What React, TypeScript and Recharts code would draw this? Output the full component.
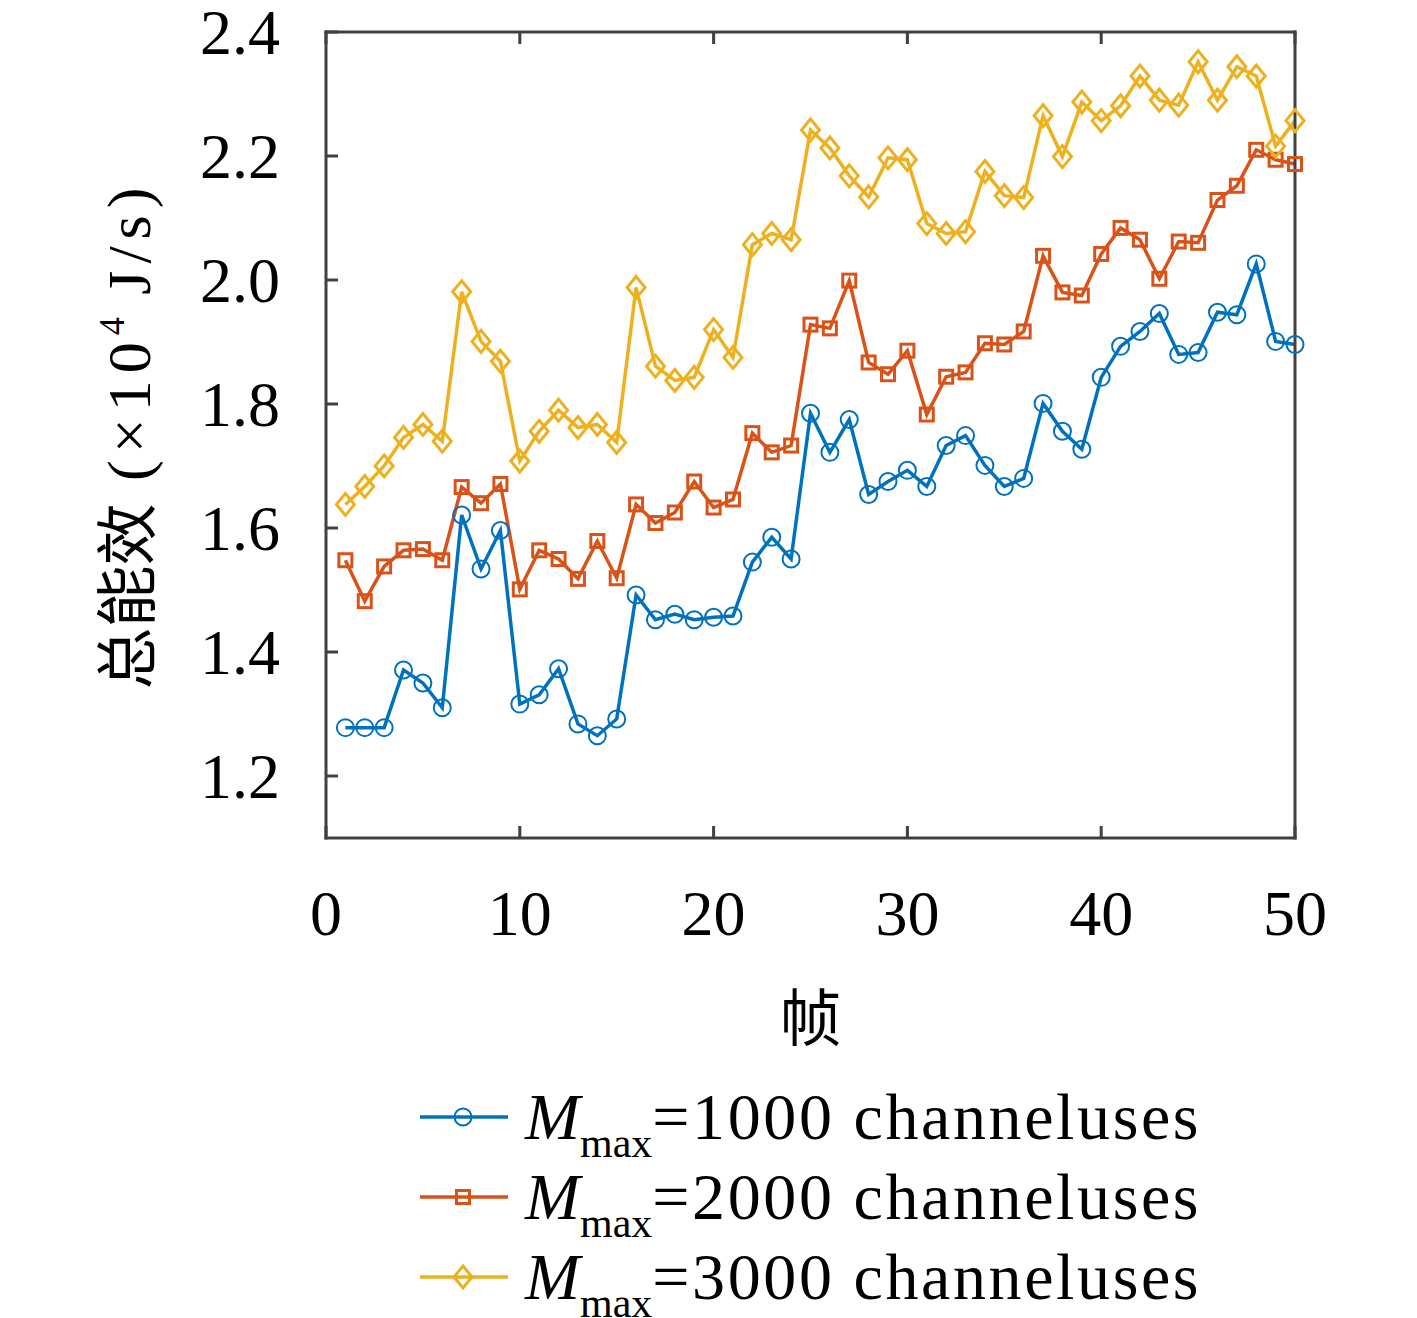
import React from "react";
import { LineChart, Line, XAxis, YAxis, Legend } from "recharts";

const frames = [
  1, 2, 3, 4, 5, 6, 7, 8, 9, 10, 11, 12, 13, 14, 15, 16, 17, 18, 19, 20, 21, 22, 23, 24, 25,
  26, 27, 28, 29, 30, 31, 32, 33, 34, 35, 36, 37, 38, 39, 40, 41, 42, 43, 44, 45, 46, 47, 48, 49, 50,
];

const m1000 = [
  1.278, 1.278, 1.278, 1.371, 1.35, 1.31, 1.621, 1.534, 1.596, 1.316, 1.331, 1.373, 1.284, 1.265, 1.292,
  1.492, 1.452, 1.461, 1.452, 1.456, 1.458, 1.545, 1.585, 1.55, 1.785, 1.722, 1.775, 1.654, 1.675, 1.693,
  1.667, 1.733, 1.749, 1.701, 1.667, 1.68, 1.801, 1.756, 1.727, 1.843, 1.893, 1.917, 1.946, 1.88, 1.883,
  1.948, 1.944, 2.026, 1.901, 1.896,
];

const m2000 = [
  1.548, 1.482, 1.538, 1.564, 1.566, 1.548, 1.666, 1.64, 1.671, 1.501, 1.564, 1.55, 1.518, 1.579, 1.519,
  1.638, 1.608, 1.625, 1.675, 1.633, 1.646, 1.753, 1.722, 1.733, 1.928, 1.922, 1.999, 1.867, 1.848, 1.886,
  1.783, 1.844, 1.851, 1.898, 1.896, 1.917, 2.039, 1.98, 1.975, 2.042, 2.084, 2.065, 2.002, 2.062, 2.06,
  2.129, 2.152, 2.21, 2.194, 2.187,
];

const m3000 = [
  1.638, 1.667, 1.7, 1.746, 1.767, 1.74, 1.981, 1.901, 1.869, 1.708, 1.756, 1.79, 1.762, 1.767, 1.738,
  1.988, 1.861, 1.838, 1.843, 1.92, 1.875, 2.057, 2.075, 2.065, 2.242, 2.213, 2.168, 2.134, 2.197, 2.194,
  2.091, 2.075, 2.078, 2.175, 2.136, 2.133, 2.265, 2.199, 2.287, 2.257, 2.281, 2.329, 2.29, 2.282, 2.352,
  2.29, 2.344, 2.329, 2.216, 2.257,
];

const xTicks = [0, 10, 20, 30, 40, 50];
const yTicks = [1.2, 1.4, 1.6, 1.8, 2.0, 2.2, 2.4];

const data = frames.map((f, i) => ({ frame: f, m1000: m1000[i], m2000: m2000[i], m3000: m3000[i] }));

const SERIF = '"Liberation Serif", "DejaVu Serif", serif';
const CJK = '"Noto Sans CJK SC", sans-serif';
const AXIS = "#404040";
const TICK_LEN = 12;
const LEFT_GAP = 46; // axis -> right end of y labels
const BOTTOM_GAP = 97; // axis -> baseline of x labels

const COLORS: Record<string, string> = { m1000: "#0072BD", m2000: "#D95319", m3000: "#EDB120" };

function Marker({ kind, cx, cy, color }: { kind: string; cx: number; cy: number; color: string }) {
  if (kind === "m1000") return <circle cx={cx} cy={cy} r={8.5} fill="none" stroke={color} strokeWidth={2} />;
  if (kind === "m2000")
    return <rect x={cx - 6.5} y={cy - 6.5} width={13} height={13} fill="none" stroke={color} strokeWidth={3} />;
  return (
    <polygon
      points={`${cx},${cy - 11} ${cx + 9},${cy} ${cx},${cy + 11} ${cx - 9},${cy}`}
      fill="none"
      stroke={color}
      strokeWidth={3}
    />
  );
}

const dotFor = (kind: string) => (p: any) =>
  <Marker key={`${kind}-${p.index}`} kind={kind} cx={p.cx} cy={p.cy} color={COLORS[kind]} />;

// tick renderers: inward tick marks like the MATLAB box
const BottomTick = ({ x, y, payload }: any) => (
  <g>
    <line x1={x} x2={x} y1={y} y2={y - TICK_LEN} stroke={AXIS} strokeWidth={3} />
    <text x={x} y={y + BOTTOM_GAP} textAnchor="middle" fontSize={64} fontFamily={SERIF} fill="#000">
      {payload.value}
    </text>
  </g>
);

const LeftTick = ({ x, y, payload }: any) => (
  <g>
    <line x1={x + LEFT_GAP} x2={x + LEFT_GAP + TICK_LEN} y1={y} y2={y} stroke={AXIS} strokeWidth={3} />
    <text x={x} y={y} dy="0.34em" textAnchor="end" fontSize={64} fontFamily={SERIF} fill="#000">
      {Number(payload.value).toFixed(1)}
    </text>
  </g>
);

const TopTick = ({ x, y }: any) => <line x1={x} x2={x} y1={y} y2={y + TICK_LEN} stroke={AXIS} strokeWidth={3} />;
const RightTick = ({ x, y }: any) => <line x1={x} x2={x - TICK_LEN} y1={y} y2={y} stroke={AXIS} strokeWidth={3} />;

const YLabel = ({ viewBox }: any) => {
  const cx = viewBox.x - 118;
  const cy = viewBox.y + viewBox.height / 2;
  return (
    <text transform={`translate(${cx},${cy}) rotate(-90)`} textAnchor="middle" dy="0.36em" fontSize={62} fill="#000" fontFamily={SERIF}>
      <tspan fontFamily={CJK} fontSize={62}>总能效</tspan>
      <tspan letterSpacing={7}> (×10</tspan>
      <tspan fontSize={36} dy={-26}>4</tspan>
      <tspan dy={26} letterSpacing={7}> J/s)</tspan>
    </text>
  );
};

const XLabel = ({ viewBox }: any) => (
  <text x={viewBox.x + viewBox.width / 2} y={viewBox.y + 176} textAnchor="middle" dominantBaseline="central" fontSize={62} fontFamily={CJK} fill="#000">
    帧
  </text>
);

const LegendBox = ({ payload }: any) => (
  <div style={{ fontFamily: SERIF, color: "#000" }}>
    {(payload || []).map((e: any) => {
      const kind = String(e.dataKey);
      const c = COLORS[kind];
      return (
        <div key={kind} style={{ display: "flex", alignItems: "center", height: 80, lineHeight: 1 }}>
          <svg width={92} height={40} style={{ overflow: "visible" }}>
            <line x1={0} y1={20} x2={88} y2={20} stroke={c} strokeWidth={3.5} />
            <Marker kind={kind} cx={43} cy={20} color={c} />
          </svg>
          <span style={{ marginLeft: 13, fontSize: 66, whiteSpace: "nowrap" }}>
            <span style={{ fontStyle: "italic" }}>M</span>
            <span style={{ fontSize: 42, display: "inline-block", lineHeight: 0.75, position: "relative", top: "0.42em" }}>max</span>
            <span style={{ letterSpacing: 2.6 }}>{e.value}</span>
          </span>
        </div>
      );
    })}
  </div>
);

const frameLine = { stroke: AXIS, strokeWidth: 3, strokeLinecap: "square" as const };

export default function App() {
  return (
    <div style={{ position: "absolute", left: 0, top: 0, width: 1417, height: 1318, background: "#fff" }}>
      <LineChart width={1417} height={1318} data={data} margin={{ top: 31, right: 121, bottom: 420, left: 246 }}>
        <XAxis
          xAxisId="b"
          dataKey="frame"
          type="number"
          domain={[0, 50]}
          ticks={xTicks}
          interval={0}
          height={60}
          tickSize={0}
          tickMargin={0}
          axisLine={frameLine}
          tickLine={false}
          tick={BottomTick}
          label={<XLabel />}
        />
        <XAxis
          xAxisId="t"
          orientation="top"
          dataKey="frame"
          type="number"
          domain={[0, 50]}
          ticks={xTicks}
          interval={0}
          height={1}
          tickSize={0}
          tickMargin={0}
          axisLine={frameLine}
          tickLine={false}
          tick={TopTick}
        />
        <YAxis
          yAxisId="l"
          type="number"
          domain={[1.1, 2.4]}
          ticks={yTicks}
          interval={0}
          width={80}
          tickSize={0}
          tickMargin={LEFT_GAP}
          axisLine={frameLine}
          tickLine={false}
          tick={LeftTick}
          label={<YLabel />}
        />
        <YAxis
          yAxisId="r"
          orientation="right"
          type="number"
          domain={[1.1, 2.4]}
          ticks={yTicks}
          interval={0}
          width={1}
          tickSize={0}
          tickMargin={0}
          axisLine={frameLine}
          tickLine={false}
          tick={RightTick}
        />
        <Line xAxisId="b" yAxisId="l" type="linear" dataKey="m1000" name="=1000 channeluses" stroke={COLORS.m1000} strokeWidth={3.5} dot={dotFor("m1000")} activeDot={false} isAnimationActive={false} />
        <Line xAxisId="b" yAxisId="l" type="linear" dataKey="m2000" name="=2000 channeluses" stroke={COLORS.m2000} strokeWidth={3.5} dot={dotFor("m2000")} activeDot={false} isAnimationActive={false} />
        <Line xAxisId="b" yAxisId="l" type="linear" dataKey="m3000" name="=3000 channeluses" stroke={COLORS.m3000} strokeWidth={3.5} dot={dotFor("m3000")} activeDot={false} isAnimationActive={false} />
        <Legend
          layout="vertical"
          align="center"
          verticalAlign="middle"
          content={<LegendBox />}
          wrapperStyle={{ position: "absolute", left: 420, top: 1077, width: "auto", bottom: "auto" }}
        />
      </LineChart>
    </div>
  );
}
